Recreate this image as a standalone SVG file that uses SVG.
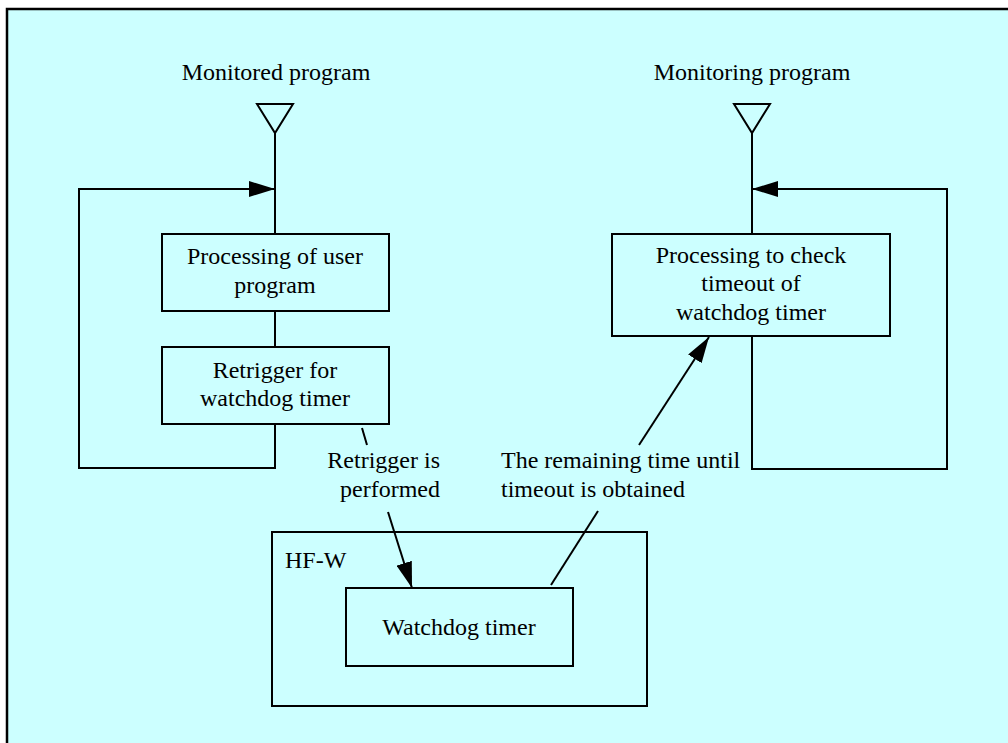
<svg xmlns="http://www.w3.org/2000/svg" width="1008" height="743" viewBox="0 0 1008 743">
<defs>
<style>
.t{font-family:"Liberation Serif","Times New Roman",serif;font-size:24px;fill:#000}
.c{text-anchor:middle}
.box{fill:none;stroke:#000;stroke-width:2}
.ln{fill:none;stroke:#000;stroke-width:2}
</style>
<marker id="ah" viewBox="0 0 26 16" refX="26" refY="8" markerWidth="26" markerHeight="16" markerUnits="userSpaceOnUse" orient="auto">
<path d="M0,0 L26,8 L0,16 Z" fill="#000"/>
</marker>
</defs>
<rect x="0" y="0" width="1008" height="743" fill="#fff"/>
<rect x="7" y="9" width="1001" height="734" fill="#CCFFFF"/>
<path d="M7,743 L7,9 L1008,9" fill="none" stroke="#000" stroke-width="2.5"/>

<g id="connectors">
<path class="ln" d="M275,311 L275,347"/>
<path class="ln" d="M275,133 L275,234"/>
<path class="ln" d="M275,424 L275,468 L79,468 L79,189 L275,189" marker-end="url(#ah)"/>
<path class="ln" d="M752,133 L752,234"/>
<path class="ln" d="M752,336 L752,469 L947,469 L947,189 L752,189" marker-end="url(#ah)"/>
<path class="ln" d="M362,428 L367,445"/>
<path class="ln" d="M388,512 L412,588" marker-end="url(#ah)"/>
<path class="ln" d="M598,511 L551,585"/>
<path class="ln" d="M639,445 L709,337" marker-end="url(#ah)"/>
</g>

<g id="monitored-start">
<text class="t c" x="276" y="80">Monitored program</text>
<path class="ln" d="M257,104 L293,104 L275,133 Z"/>
</g>
<g id="monitoring-start">
<text class="t c" x="752" y="80">Monitoring program</text>
<path class="ln" d="M734,104 L770,104 L752,133 Z"/>
</g>

<g id="processing-user">
<rect class="box" x="162" y="234" width="227" height="77"/>
<text class="t c" x="275" y="264">Processing of user</text>
<text class="t c" x="275" y="293">program</text>
</g>
<g id="retrigger">
<rect class="box" x="162" y="347" width="227" height="77"/>
<text class="t c" x="275" y="378">Retrigger for</text>
<text class="t c" x="275" y="406">watchdog timer</text>
</g>
<g id="check-timeout">
<rect class="box" x="612" y="234" width="278" height="102"/>
<text class="t c" x="751" y="263">Processing to check</text>
<text class="t c" x="751" y="291">timeout of</text>
<text class="t c" x="751" y="320">watchdog timer</text>
</g>

<g id="label-retrigger">
<text class="t" x="440" y="468" text-anchor="end">Retrigger is</text>
<text class="t" x="440" y="497" text-anchor="end">performed</text>
</g>
<g id="label-remaining">
<text class="t" x="501" y="468">The remaining time until</text>
<text class="t" x="501" y="497">timeout is obtained</text>
</g>

<g id="hfw">
<rect class="box" x="272" y="532" width="375" height="174"/>
<text class="t" x="285" y="568">HF-W</text>
</g>
<g id="watchdog">
<rect class="box" x="346" y="588" width="227" height="78"/>
<text class="t c" x="459" y="635">Watchdog timer</text>
</g>
</svg>
